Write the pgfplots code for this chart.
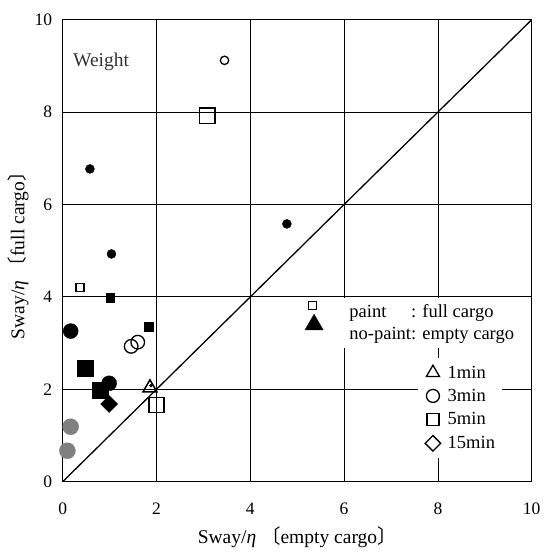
\documentclass[border=0pt]{standalone}
\usepackage{pgfplots}
\pgfplotsset{compat=1.18}
\usepackage{fontspec}
\setmainfont{Liberation Serif}
\newfontfamily\cjk{Noto Sans CJK JP}
\begin{document}
\begin{tikzpicture}
\begin{axis}[
  name=ax, at={(0,0)}, anchor=south west,
  scale only axis, width=469pt, height=462pt,
  xmin=0, xmax=10, ymin=0, ymax=10,
  xtick={0,2,4,6,8,10}, ytick={0,2,4,6,8,10},
  grid=major, grid style={black, line width=0.8pt},
  axis line style={black, line width=1pt},
  major tick length=0pt,
  /pgf/number format/assume math mode=true,
  tick label style={font=\fontsize{17.5}{20}\selectfont},
  xticklabel style={yshift=-18pt},
  yticklabel style={xshift=-7pt},
  xlabel={Sway/\textit{η} {\cjk 〔}empty cargo{\cjk 〕}},
  ylabel={Sway/\textit{η} {\cjk 〔}full cargo{\cjk 〕}},
  xlabel style={at={(axis description cs:0.5,-0.1212)}, anchor=center, font=\fontsize{19.5}{22}\selectfont},
  ylabel style={at={(axis description cs:-0.095,0.5)}, anchor=center, font=\fontsize{19.5}{22}\selectfont},
  legend image code/.code={\draw[#1] plot coordinates {(0pt,0pt)};},
  legend cell align=left,
  legend style={at={(axis cs:7.575,2.678)}, anchor=north west, draw=none, fill=white,
    inner sep=7pt, font=\fontsize{18.5}{22}\selectfont, row sep=9.5pt,
    nodes={inner sep=0pt},
    /tikz/every odd column/.append style={column sep=7pt}},
]
% diagonal
\addplot[black, line width=1.3pt, forget plot] coordinates {(0,0) (10,10)};
% white boxes behind annotations
\fill[white] (axis cs:5.91,2.89) rectangle (axis cs:9.75,3.98);
% small filled circles
\addplot[only marks, mark=*, mark size=4.5pt, black, forget plot] coordinates {(0.58,6.77) (1.04,4.93) (4.78,5.58)};
% small open circle
\addplot[only marks, mark=o, mark size=4.2pt, black, line width=1.3pt, forget plot] coordinates {(3.45,9.12)};
% small open squares
\addplot[only marks, mark=square, mark size=4pt, black, line width=1.3pt, forget plot] coordinates {(0.37,4.21) (5.33,3.81)};
% small filled squares
\addplot[only marks, mark=square*, mark size=4.3pt, black, forget plot] coordinates {(1.01,3.98) (1.83,3.36)};
% large open squares
\addplot[only marks, mark=square, mark size=7.7pt, black, line width=1.5pt, forget plot] coordinates {(3.08,7.92) (2.00,1.66)};
% large filled circles
\addplot[only marks, mark=*, mark size=7.5pt, black, forget plot] coordinates {(0.17,3.26) (0.99,2.13)};
% medium open circles
\addplot[only marks, mark=o, mark size=6.8pt, black, line width=1.3pt, forget plot] coordinates {(1.46,2.93) (1.60,3.02)};
% large filled squares
\addplot[only marks, mark=square*, mark size=8pt, black, forget plot] coordinates {(0.48,2.45) (0.80,1.97)};
% open triangle
\addplot[only marks, mark=triangle, mark size=8.1pt, black, line width=1.5pt, forget plot] coordinates {(1.86,2.03)};
% tiny dot
\addplot[only marks, mark=*, mark size=1.5pt, black, forget plot] coordinates {(1.88,2.08)};
% filled triangle
\addplot[only marks, mark=triangle*, mark size=10.4pt, black, forget plot] coordinates {(5.36,3.40)};
% filled diamond
\addplot[only marks, mark=square*, mark options={rotate=45}, mark size=6pt, black, forget plot] coordinates {(0.99,1.68)};
% gray circles
\addplot[only marks, mark=*, mark size=8pt, gray, forget plot] coordinates {(0.17,1.19) (0.10,0.67)};
% legend
\addlegendimage{only marks, mark=triangle, mark size=7.5pt, line width=1.3pt, black}
\addlegendentry{1min}
\addlegendimage{only marks, mark=o, mark size=6.5pt, line width=1.3pt, black}
\addlegendentry{3min}
\addlegendimage{only marks, mark=square, mark size=6pt, line width=1.3pt, black}
\addlegendentry{5min}
\addlegendimage{only marks, mark=square, mark options={rotate=45}, mark size=5.5pt, line width=1.3pt, black}
\addlegendentry{15min}
% texts
\node[anchor=west, inner sep=0pt, text=black!80, font=\fontsize{19.5}{22}\selectfont] at (axis cs:0.22,9.09) {Weight};
\node[anchor=west, inner sep=0pt, font=\fontsize{18.5}{22.3}\selectfont] at (axis cs:6.11,3.42)
  {\begin{tabular}{@{}l@{}l@{}}paint&: full cargo\\no-paint&: empty cargo\end{tabular}};
\end{axis}
\pgfresetboundingbox
\path[use as bounding box] ([xshift=-62.7pt,yshift=-70.3pt]ax.south west) rectangle ([xshift=481.3pt,yshift=481.7pt]ax.south west);
\end{tikzpicture}
\end{document}
